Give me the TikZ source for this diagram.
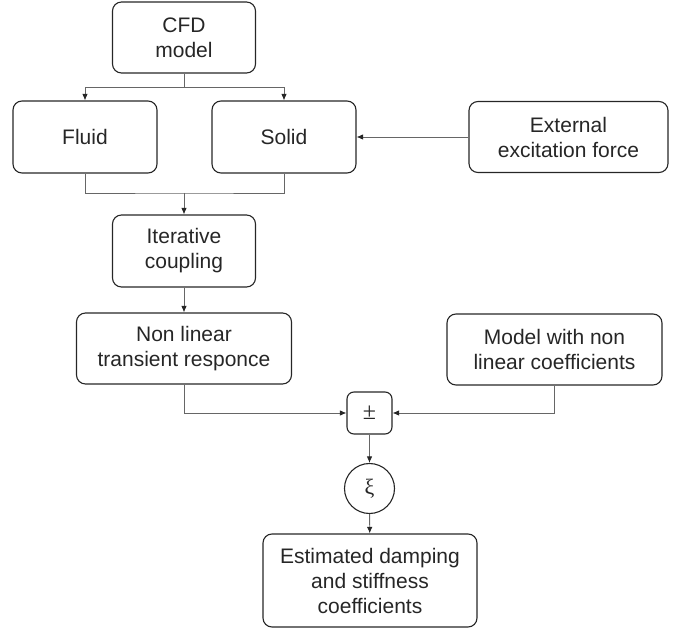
\documentclass[tikz,border=0pt]{standalone}
\usepackage{fontspec}
\setmainfont{Liberation Sans}
\newfontfamily\serifgr{Liberation Serif}
\usetikzlibrary{arrows.meta}
\begin{document}
\begin{tikzpicture}[x=1pt,y=-1pt,
  box/.style={draw=black!85, line width=1.1pt, rounded corners=9pt, align=center,
    font=\fontsize{21}{25}\selectfont, text=black!85, inner sep=0pt},
  conn/.style={draw=black!60, line width=0.9pt},
  arr/.style={conn, -{Latex[length=6.5pt,width=5.5pt,color=black!85]}}]
\useasboundingbox (0,0) rectangle (681,631);
\node[box, minimum width=143pt, minimum height=71pt] (cfd) at (184,37.5) {CFD\\model};
\node[box, minimum width=144pt, minimum height=72pt] (fluid) at (85,137) {Fluid};
\node[box, minimum width=144pt, minimum height=72pt] (solid) at (284,137) {Solid};
\node[box, minimum width=199pt, minimum height=71pt] (ext) at (568.5,137) {External\\excitation force};
\node[box, minimum width=143pt, minimum height=72pt] (iter) at (184,251) {Iterative\\coupling};
\node[box, minimum width=215pt, minimum height=71pt] (nonlin) at (184,348.5) {Non linear\\transient responce};
\node[box, minimum width=215pt, minimum height=71pt] (model) at (554.5,349.5) {Model with non\\linear coefficients};
\node[box, rounded corners=7pt, minimum width=45pt, minimum height=42pt, font=\serifgr\fontsize{24}{28}\selectfont] (pm) at (369.5,413) {±};
\node[box, circle, minimum size=50pt, font=\serifgr\fontsize{22}{26}\selectfont] (xi) at (369.5,488.5) {ξ};
\node[box, minimum width=214pt, minimum height=93pt] (est) at (370,580.5) {Estimated damping\\and stiffness\\coefficients};
\coordinate (split) at (184,87);
\coordinate (merge) at (184,193);
\draw[conn] (cfd.south) -- (split);
\draw[arr] (split) -| (fluid.north);
\draw[arr] (split) -| (solid.north);
\draw[arr] (ext.west) -- (solid.east);
\draw[conn] (fluid.south) |- (merge) -| (solid.south);
\draw[arr] (merge) -- (iter.north);
\draw[arr] (iter) -- (nonlin);
\draw[arr] (nonlin.south) |- (pm.west);
\draw[arr] (model.south) |- (pm.east);
\draw[arr] (pm) -- (xi);
\draw[arr] (xi) -- (est);
\end{tikzpicture}
\end{document}
